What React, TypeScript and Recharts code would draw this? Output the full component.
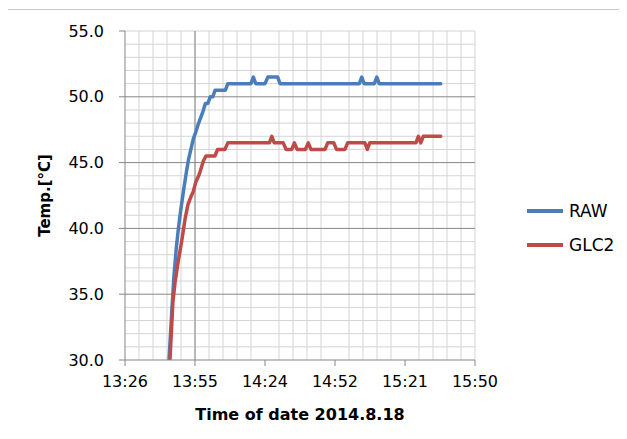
import React from "react";
import {
  LineChart,
  Line,
  XAxis,
  YAxis,
  Legend,
  Label,
  ReferenceLine,
} from "recharts";

// Time in minutes since midnight, values in °C
const rawTimes = [
  824.5, 825.5, 826.5, 827.5, 828.5, 829.5, 830.5, 831.5, 832.5, 833.5, 834.5,
  835.5, 836.5, 837.5, 838.5, 839.5, 840.5, 841.5, 842.5, 843.5, 847.7, 848.7,
  858.2, 859.2, 860.2, 864.0, 865.2, 869.2, 870.2, 902.8, 903.8, 904.8, 909.0,
  910.0, 911.0, 936.3,
];
const rawValues = [
  30.0, 33.2, 36.3, 38.5, 40.2, 41.6, 42.9, 44.1, 45.2, 46.0, 46.8, 47.3, 47.9,
  48.4, 48.9, 49.5, 49.5, 50.0, 50.0, 50.5, 50.5, 51.0, 51.0, 51.5, 51.0, 51.0,
  51.5, 51.5, 51.0, 51.0, 51.5, 51.0, 51.0, 51.5, 51.0, 51.0,
];

const glcTimes = [
  824.9, 826.1, 827.0, 828.3, 829.7, 831.1, 832.3, 833.5, 834.5, 835.5, 836.5,
  837.3, 838.6, 839.7, 843.4, 844.5, 847.5, 848.7, 865.8, 866.8, 867.8, 871.5,
  872.7, 875.0, 876.1, 877.2, 880.6, 881.8, 882.9, 888.7, 889.8, 892.3, 893.4,
  896.9, 898.0, 905.1, 906.1, 907.1, 926.1, 927.1, 928.1, 929.1, 936.3,
];
const glcValues = [
  30.0, 34.4, 35.9, 37.5, 39.0, 40.7, 41.8, 42.4, 42.8, 43.5, 43.9, 44.3, 45.1,
  45.5, 45.5, 46.0, 46.0, 46.5, 46.5, 47.0, 46.5, 46.5, 46.0, 46.0, 46.5, 46.0,
  46.0, 46.5, 46.0, 46.0, 46.5, 46.5, 46.0, 46.0, 46.5, 46.5, 46.0, 46.5, 46.5,
  47.0, 46.5, 47.0, 47.0,
];

const xDomain: [number, number] = [806.4, 950.4];
const xTicks = [806.4, 835.2, 864.0, 892.8, 921.6, 950.4];
const xMinorGrid = [
  812.16, 817.92, 823.68, 829.44, 835.2, 840.96, 846.72, 852.48, 858.24,
  869.76, 875.52, 881.28, 887.04, 898.56, 904.32, 910.08, 915.84, 927.36,
  933.12, 938.88, 944.64, 950.4,
];
const xMajorGrid = [835.2];

const yDomain: [number, number] = [30, 55];
const yTicks = [30, 35, 40, 45, 50, 55];
const yMinorGrid = [
  31, 32, 33, 34, 36, 37, 38, 39, 41, 42, 43, 44, 46, 47, 48, 49, 51, 52, 53,
  54, 55,
];
const yMajorGrid = [35, 40, 45, 50];

const seriesNames = ["RAW", "GLC2"];
const seriesColors = ["#4a7ebb", "#be4b48"];

const rawData = rawTimes.map((t, i) => ({ t, v: rawValues[i] }));
const glcData = glcTimes.map((t, i) => ({ t, v: glcValues[i] }));

const fmtTime = (m: number) => {
  const h = Math.floor(m / 60);
  const mm = Math.floor(m - h * 60 + 1e-6);
  return `${h}:${mm < 10 ? "0" + mm : mm}`;
};

const FONT = "'DejaVu Sans', sans-serif";
const AXIS_COLOR = "#868686";
const MINOR_COLOR = "#d4d4d4";

const LegendContent = () => {
  return (
    <div style={{ fontFamily: FONT, fontSize: 17, color: "#000" }}>
      {seriesNames.map((name, i) => (
        <div
          key={name}
          style={{ display: "flex", alignItems: "center", height: 34 }}
        >
          <svg width={36} height={6} style={{ marginRight: 6 }}>
            <line
              x1={0}
              y1={3}
              x2={36}
              y2={3}
              stroke={seriesColors[i]}
              strokeWidth={4}
            />
          </svg>
          <span>{name}</span>
        </div>
      ))}
    </div>
  );
};

export default function App() {
  return (
    <div
      style={{
        position: "relative",
        width: 619,
        height: 431,
        marginLeft: -1,
        marginTop: 1,
        borderLeft: "1px solid #c8c8c8",
        borderTop: "1px solid #c8c8c8",
        boxSizing: "border-box",
        overflow: "hidden",
      }}
    >
      <LineChart
        width={611}
        height={423}
        margin={{ top: 21, right: 144, bottom: 43, left: 0 }}
        style={{ fontFamily: FONT }}
      >
        <XAxis
          type="number"
          dataKey="t"
          domain={xDomain}
          ticks={xTicks}
          tickFormatter={fmtTime}
          allowDataOverflow
          height={30}
          stroke={AXIS_COLOR}
          tickSize={6}
          tickMargin={10}
          tick={{ fill: "#000", fontSize: 16, fontFamily: FONT }}
        >
          <Label
            value="Time of date 2014.8.18"
            position="bottom"
            offset={19}
            style={{
              fontFamily: FONT,
              fontSize: 16,
              fontWeight: "bold",
              fill: "#000",
            }}
          />
        </XAxis>
        <YAxis
          type="number"
          domain={yDomain}
          ticks={yTicks}
          tickFormatter={(v: number) => v.toFixed(1)}
          allowDataOverflow
          width={117}
          stroke={AXIS_COLOR}
          tickSize={6}
          tickMargin={15}
          tick={{ fill: "#000", fontSize: 16, fontFamily: FONT }}
        >
          <Label
            value="Temp.[°C]"
            angle={-90}
            position="insideLeft"
            offset={37}
            style={{
              textAnchor: "middle",
              fontFamily: FONT,
              fontSize: 15,
              fontWeight: "bold",
              fill: "#000",
            }}
          />
        </YAxis>
        {yMinorGrid.map((v) => (
          <ReferenceLine
            key={"ym" + v}
            y={v}
            stroke={MINOR_COLOR}
            strokeWidth={1}
            ifOverflow="extendDomain"
          />
        ))}
        {xMinorGrid.map((v) => (
          <ReferenceLine
            key={"xm" + v}
            x={v}
            stroke={MINOR_COLOR}
            strokeWidth={1}
            ifOverflow="extendDomain"
          />
        ))}
        {yMajorGrid.map((v) => (
          <ReferenceLine
            key={"yM" + v}
            y={v}
            stroke={AXIS_COLOR}
            strokeWidth={1}
            ifOverflow="extendDomain"
          />
        ))}
        {xMajorGrid.map((v) => (
          <ReferenceLine
            key={"xM" + v}
            x={v}
            stroke={AXIS_COLOR}
            strokeWidth={1}
            ifOverflow="extendDomain"
          />
        ))}
        <Line
          data={rawData}
          dataKey="v"
          name={seriesNames[0]}
          stroke={seriesColors[0]}
          strokeWidth={3.5}
          dot={false}
          activeDot={false}
          isAnimationActive={false}
          strokeLinejoin="round"
          strokeLinecap="round"
        />
        <Line
          data={glcData}
          dataKey="v"
          name={seriesNames[1]}
          stroke={seriesColors[1]}
          strokeWidth={3.5}
          dot={false}
          activeDot={false}
          isAnimationActive={false}
          strokeLinejoin="round"
          strokeLinecap="round"
        />
        <Legend
          layout="horizontal"
          verticalAlign="middle"
          align="center"
          content={LegendContent}
          wrapperStyle={{ left: 519, top: 184, width: 100 }}
        />
      </LineChart>
    </div>
  );
}
